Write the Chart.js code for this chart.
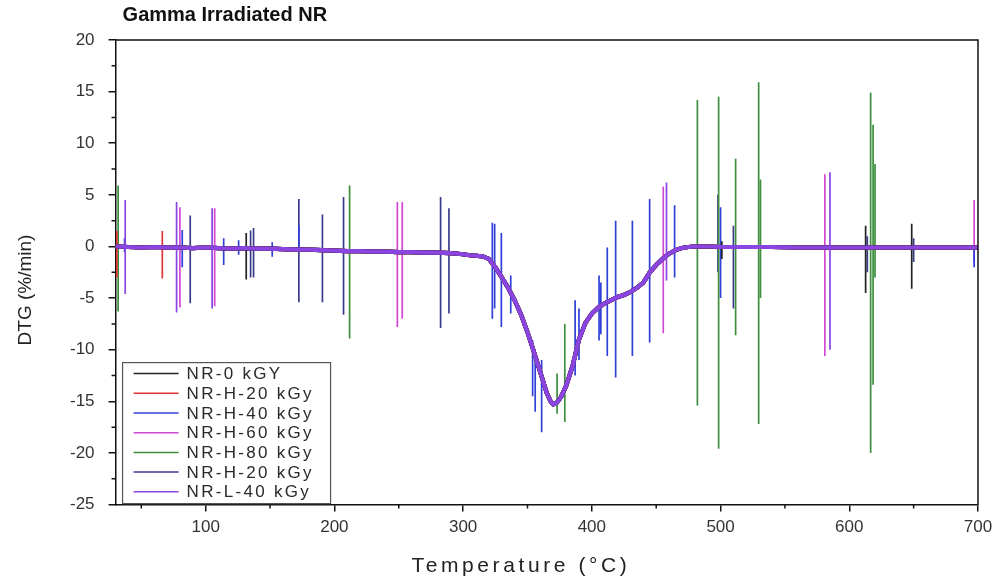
<!DOCTYPE html>
<html>
<head>
<meta charset="utf-8">
<script src="https://cdn.jsdelivr.net/npm/chart.js@4"></script>
<style>
  html, body { margin: 0; background: #fff; }
  #wrap { width: 1000px; height: 577px; position: relative; }
</style>
</head>
<body>
<div id="wrap"><canvas id="graph"></canvas></div>
<script>
// series names and colours (legend order)
const seriesNames = ['NR-0 kGY', 'NR-H-20 kGy', 'NR-H-40 kGy', 'NR-H-60 kGy', 'NR-H-80 kGy', 'NR-H-20 kGy', 'NR-L-40 kGy'];
const seriesColors = ['#222222', '#e03434', '#2f3fd8', '#d248d2', '#3d8f3d', '#3b3b8c', '#8a44e0'];

// shared DTG curve, temperature (°C) and DTG (%/min)
const baseT = [30, 40, 50, 60, 70, 80, 90, 100, 110, 120, 130, 140, 150, 160, 170, 180, 190, 200,
  210, 220, 230, 240, 250, 260, 270, 280, 290, 300, 305, 310, 315, 320, 325, 330, 335, 340, 345,
  350, 355, 360, 365, 368, 370, 373, 376, 380, 385, 390, 395, 400, 405, 410, 415, 420, 425, 430,
  435, 440, 445, 450, 455, 460, 465, 470, 475, 480, 490, 500, 520, 540, 560, 580, 600, 620, 640,
  660, 680, 700];
const baseDTG = [0.0, -0.05, -0.1, -0.05, -0.1, -0.1, -0.15, -0.1, -0.15, -0.2, -0.15, -0.2, -0.2,
  -0.25, -0.3, -0.3, -0.35, -0.4, -0.45, -0.45, -0.5, -0.5, -0.55, -0.55, -0.6, -0.6, -0.65, -0.75,
  -0.85, -0.9, -0.95, -1.2, -2.0, -3.0, -4.0, -5.2, -6.6, -8.3, -10.2, -12.2, -14.2, -15.0, -15.3,
  -15.1, -14.6, -13.5, -11.6, -9.0, -7.4, -6.5, -5.9, -5.5, -5.2, -4.9, -4.7, -4.4, -4.0, -3.5,
  -2.5, -1.8, -1.2, -0.7, -0.35, -0.15, -0.05, 0.0, 0.0, -0.05, -0.05, -0.05, -0.1, -0.1, -0.1,
  -0.1, -0.1, -0.1, -0.1, -0.1];

// noise spikes per series: [temperature, top, bottom]
const spikesNR0 = [[131.5, 1.3, -3.2], [501, 0.5, -1.2], [612.7, 2.0, -4.5], [648.5, 2.2, -4.1]];
const spikesH20 = [[31, 1.5, -3.0], [66.3, 1.5, -3.1]];
const spikesH40 = [[37, 0.8, -0.5], [81.8, 1.6, -2.0], [114, 0.8, -1.8], [125.6, 0.6, -0.8],
  [151.7, 0.4, -1.0], [172.4, 2.0, -0.5], [322.7, 2.3, -7.0], [324.5, 2.2, -6.0], [329.7, 1.3, -7.8],
  [337, -2.8, -6.5], [354, -9.1, -14.5], [356, -10, -16], [361, -11, -18.0], [387, -5.2, -12.5],
  [390, -6, -11], [405.6, -2.8, -9.1], [407, -3.5, -8.5], [412, -0.1, -10.6], [418.5, 2.5, -12.7],
  [431.5, 2.5, -10.6], [444.9, 4.6, -9.3], [464.3, 4.0, -3.0], [500, 3.8, -5.0], [697, 0, -2.0]];
const spikesH60 = [[80, 3.8, -5.9], [107, 3.7, -5.8], [248.9, 4.3, -7.8], [252.7, 4.3, -7.0],
  [455.5, 5.8, -8.4], [581, 7.0, -10.6], [697, 4.5, -1.5]];
const spikesH80 = [[32, 5.9, -6.3], [211.8, 5.9, -8.9], [373, -12.3, -16.2], [379, -7.5, -17.0],
  [482, 14.2, -15.4], [498.5, 14.5, -19.6], [511.7, 8.5, -8.6], [529.6, 15.9, -17.2], [531, 6.5, -5.0],
  [616.6, 14.9, -20.0], [618.5, 11.8, -13.4], [620, 8.0, -3.0]];
const spikesH20b = [[88, 3.0, -5.5], [134.9, 1.55, -3.0], [137.2, 1.8, -3.0], [172.4, 4.6, -5.4],
  [190.7, 3.1, -5.4], [207.1, 4.8, -6.6], [282.5, 4.8, -7.9], [289, 3.7, -6.5], [498, 5.0, -2.5],
  [510, 2.0, -6.0], [614, 1.0, -2.5], [650, 0.8, -1.5]];
const spikesL40 = [[37.5, 4.5, -4.6], [77.4, 4.3, -6.4], [105, 3.7, -6.0], [458, 6.2, -3.3],
  [585, 7.2, -10.0]];
const allSpikes = [spikesNR0, spikesH20, spikesH40, spikesH60, spikesH80, spikesH20b, spikesL40];

const xTicks = [100, 200, 300, 400, 500, 600, 700];
const yTicks = [-25, -20, -15, -10, -5, 0, 5, 10, 15, 20];

Chart.defaults.font.family = "'Liberation Sans', Arial, sans-serif";
Chart.defaults.color = '#333';

function buildSeries(spikes) {
  const pts = baseT.map((t, i) => ({ x: t, y: baseDTG[i] }));
  spikes.forEach(s => {
    pts.push({ x: s[0], y: null });
    pts.push({ x: s[0], y: s[1] });
    pts.push({ x: s[0], y: s[2] });
  });
  return pts;
}

const datasets = seriesNames.map((name, i) => ({
  label: name,
  data: buildSeries(allSpikes[i]),
  borderColor: seriesColors[i],
  backgroundColor: seriesColors[i],
  showLine: true,
  spanGaps: false,
  pointRadius: 0,
  borderWidth: 1.7,
  order: i === 6 ? 0 : 1,
  segment: {
    borderWidth: c => c.p1DataIndex < baseT.length ? 4.2 : 1.7
  }
}));

const extras = {
  id: 'extras',
  afterDraw(chart) {
    const { ctx, chartArea: a, scales } = chart;
    ctx.save();
    // frame top / right
    ctx.strokeStyle = '#111';
    ctx.lineWidth = 1.5;
    ctx.beginPath();
    ctx.moveTo(a.left, a.top);
    ctx.lineTo(a.right, a.top);
    ctx.lineTo(a.right, a.bottom);
    ctx.stroke();
    // minor ticks
    ctx.beginPath();
    for (let v = 50; v < 700; v += 100) {
      const px = scales.x.getPixelForValue(v);
      ctx.moveTo(px, a.bottom);
      ctx.lineTo(px, a.bottom + 4);
    }
    for (let v = -22.5; v < 20; v += 5) {
      const py = scales.y.getPixelForValue(v);
      ctx.moveTo(a.left, py);
      ctx.lineTo(a.left - 4, py);
    }
    ctx.stroke();
    // title
    ctx.fillStyle = '#111';
    ctx.font = "bold 20px 'Liberation Sans', Arial, sans-serif";
    ctx.textBaseline = 'middle';
    ctx.textAlign = 'left';
    ctx.fillText('Gamma Irradiated NR', a.left + 7, 15);
    // y axis title
    ctx.save();
    ctx.translate(26, 290);
    ctx.rotate(-Math.PI / 2);
    ctx.fillStyle = '#222';
    ctx.font = "19px 'Liberation Sans', Arial, sans-serif";
    ctx.textAlign = 'center';
    ctx.fillText('DTG (%/min)', 0, 0);
    ctx.restore();
    // x axis title (letter-spaced like the original)
    ctx.fillStyle = '#222';
    ctx.font = "21px 'Liberation Sans', Arial, sans-serif";
    ctx.letterSpacing = '3.6px';
    ctx.textAlign = 'center';
    ctx.fillText('Temperature (°C)', 521, 566);
    // legend
    const bx = a.left + 7, bw = 208, bh = 141, by = a.bottom - bh - 1;
    ctx.fillStyle = '#fff';
    ctx.fillRect(bx, by, bw, bh);
    ctx.strokeStyle = '#555';
    ctx.lineWidth = 1.2;
    ctx.strokeRect(bx, by, bw, bh);
    ctx.font = "17px 'Liberation Sans', Arial, sans-serif";
    ctx.letterSpacing = '2.3px';
    ctx.textAlign = 'left';
    seriesNames.forEach((name, i) => {
      const y = by + 11 + i * 19.7;
      ctx.strokeStyle = seriesColors[i];
      ctx.lineWidth = 1.5;
      ctx.beginPath();
      ctx.moveTo(bx + 11, y);
      ctx.lineTo(bx + 56, y);
      ctx.stroke();
      ctx.fillStyle = '#2a2a2a';
      ctx.fillText(name, bx + 64, y + 1);
    });
    ctx.restore();
  }
};

new Chart(document.getElementById('graph'), {
  type: 'scatter',
  data: { datasets },
  options: {
    responsive: true,
    maintainAspectRatio: false,
    animation: false,
    events: [],
    layout: { padding: { top: 40, right: 22, left: 56, bottom: 33 } },
    plugins: { legend: { display: false }, tooltip: { enabled: false } },
    scales: {
      x: {
        type: 'linear', min: 30, max: 700,
        afterBuildTicks: s => { s.ticks = xTicks.map(v => ({ value: v })); },
        ticks: { font: { size: 17 }, color: '#333', padding: 6, maxRotation: 0 },
        grid: { drawOnChartArea: false, drawTicks: true, tickLength: 7, color: '#111', lineWidth: 1.5 },
        border: { display: true, color: '#111', width: 1.5 },
        title: { display: false }
      },
      y: {
        type: 'linear', min: -25, max: 20,
        afterBuildTicks: s => { s.ticks = yTicks.map(v => ({ value: v })); },
        ticks: { font: { size: 17 }, color: '#333', padding: 14 },
        grid: { drawOnChartArea: false, drawTicks: true, tickLength: 7, color: '#111', lineWidth: 1.5 },
        border: { display: true, color: '#111', width: 1.5 },
        title: { display: false }
      }
    }
  },
  plugins: [extras]
});
</script>
</body>
</html>
